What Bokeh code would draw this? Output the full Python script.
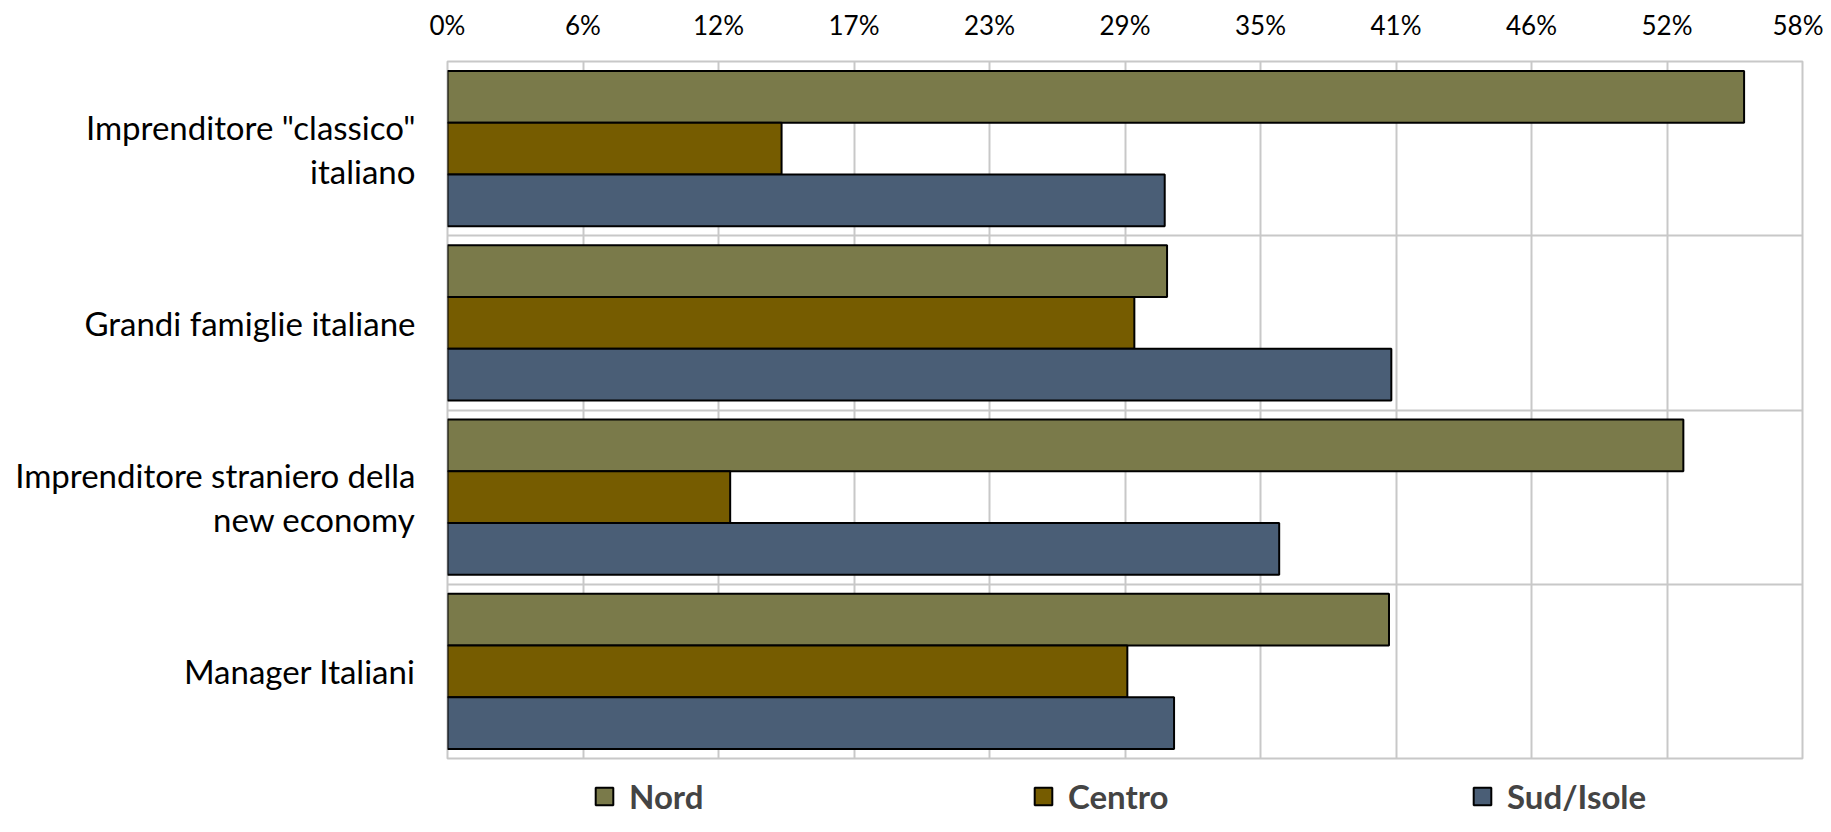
import numpy as np
from bokeh.plotting import figure
from bokeh.layouts import column
from bokeh.models import (Range1d, FixedTicker, NumeralTickFormatter, LinearAxis,
                          Legend, LegendItem, ColumnDataSource)
from bokeh.embed import file_html
from bokeh.resources import INLINE

categories = ['Imprenditore "classico"\nitaliano', "Grandi famiglie italiane",
              "Imprenditore straniero della\nnew economy", "Manager Italiani"]
series = ["Nord", "Centro", "Sud/Isole"]
nord = [0.555, 0.308, 0.529, 0.403]
centro = [0.143, 0.294, 0.121, 0.291]
sud = [0.307, 0.404, 0.356, 0.311]
x_ticks = [0, 0.058, 0.116, 0.174, 0.232, 0.29, 0.348, 0.406, 0.464, 0.522, 0.58]
colors = ["#7A7A4A", "#765C00", "#4A5E76"]

W = 1823
p = figure(width=W, height=760, output_backend="svg", toolbar_location=None,
           x_range=Range1d(0, 0.58), y_range=Range1d(len(categories), 0),
           x_axis_location=None, y_axis_location=None,
           min_border_left=447, min_border_right=21, min_border_top=61, min_border_bottom=2)
p.background_fill_color = "white"
p.outline_line_color = "#C8C8C8"
p.outline_line_width = 2

centers = [i + 0.5 for i in range(len(categories))]
bar_h = 0.2967
offsets = [-bar_h, 0.0, bar_h]
vals = [nord, centro, sud]
for name, v, off, c in zip(series, vals, offsets, colors):
    src = ColumnDataSource(dict(y=[ce + off for ce in centers], right=v))
    p.hbar(y="y", right="right", left=0, height=bar_h, source=src,
           fill_color=c, line_color="black", line_width=2)

# top axis
xa = LinearAxis(ticker=FixedTicker(ticks=x_ticks), formatter=NumeralTickFormatter(format="0%"))
xa.axis_line_color = None
xa.major_tick_line_color = None
xa.minor_tick_line_color = None
xa.major_label_text_font = "Lato"
xa.major_label_text_font_size = "26px"
xa.major_label_text_color = "black"
xa.major_label_standoff = 15
p.add_layout(xa, "above")

# left axis with category names
ya = LinearAxis(ticker=FixedTicker(ticks=centers),
                major_label_overrides={c: lab for c, lab in zip(centers, categories)})
ya.axis_line_color = None
ya.major_tick_line_color = None
ya.minor_tick_line_color = None
ya.major_label_text_font = "Lato"
ya.major_label_text_font_size = "33px"
ya.major_label_text_color = "black"
ya.major_label_text_line_height = 1.1
ya.major_label_standoff = 26
p.add_layout(ya, "left")

p.xgrid.ticker = FixedTicker(ticks=x_ticks)
p.ygrid.ticker = FixedTicker(ticks=list(range(1, len(categories))))
for g in (p.xgrid, p.ygrid):
    g.grid_line_color = "#C8C8C8"
    g.grid_line_width = 2
p.xgrid.level = "underlay"
p.ygrid.level = "underlay"

# legend strip below the chart (legend swatches only; their glyphs hold no drawable values)
pl = figure(width=W, height=56, output_backend="svg", toolbar_location=None,
            x_range=Range1d(0, 1), y_range=Range1d(0, 1),
            x_axis_location=None, y_axis_location=None, min_border=0)
pl.outline_line_color = None
pl.xgrid.visible = False
pl.ygrid.visible = False
leg_renderers = []
for c in colors:
    r = pl.hbar(y="y", right="right", left=0, height=0.5,
                source=ColumnDataSource(dict(y=np.array([np.nan]), right=np.array([np.nan]))),
                fill_color=c, line_color="black", line_width=2)
    leg_renderers.append(r)
legend = Legend(items=[LegendItem(label=s, renderers=[r]) for s, r in zip(series, leg_renderers)],
                orientation="horizontal", location=(146, 0),
                spacing=203, padding=0, margin=0, border_line_color=None, background_fill_alpha=0,
                glyph_width=22, glyph_height=22, label_height=22, label_width=200,
                label_text_font="Lato", label_text_font_style="bold",
                label_text_font_size="33px", label_standoff=14)
pl.add_layout(legend)

open("out.html", "w").write(file_html(column(p, pl, spacing=0), INLINE))
